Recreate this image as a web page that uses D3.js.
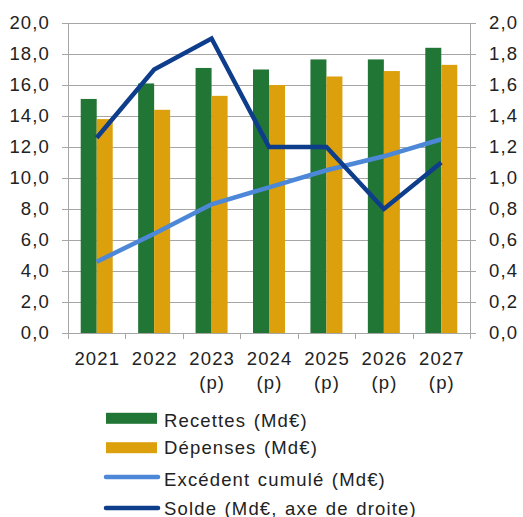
<!DOCTYPE html>
<html><head><meta charset="utf-8">
<script src="https://cdn.jsdelivr.net/npm/d3@7"></script>
<style>body{margin:0;background:#fff}svg{display:block}text{font-family:"Liberation Sans",Arial,sans-serif;fill:#222;font-size:18.5px;letter-spacing:1.15px;word-spacing:1.2px}</style>
</head><body><svg id="c" width="523" height="517"></svg>
<script>
const years = ["2021","2022","2023","2024","2025","2026","2027"];
const yearSub = ["","","(p)","(p)","(p)","(p)","(p)"];
const recettes = [15.1,16.1,17.1,17.0,17.65,17.65,18.4];
const depenses = [13.8,14.4,15.3,16.0,16.55,16.9,17.3];
const excedent = [4.6,6.4,8.3,9.4,10.5,11.4,12.5];
const solde = [1.26,1.7,1.9,1.2,1.2,0.8,1.1];
const leftTicks = [0,2,4,6,8,10,12,14,16,18,20];
const rightTicks = [0,0.2,0.4,0.6,0.8,1.0,1.2,1.4,1.6,1.8,2.0];
const legendLabels = ["Recettes (Md€)","Dépenses (Md€)","Excédent cumulé (Md€)","Solde (Md€, axe de droite)"];
const colors = {rec:"#217535",dep:"#dba00c",exc:"#4d88d8",sol:"#0e3d8b",grid:"#a6a6a6"};

const svg = d3.select("#c");
const L=68,R=470,T=23,B=333;
const x = d3.scaleBand().domain(years).range([L,R]);
const yL = d3.scaleLinear().domain([0,20]).range([B,T]);
const yR = d3.scaleLinear().domain([0,2]).range([B,T]);
const fmt = d=>d.toFixed(1).replace(".",",");

svg.append("g").selectAll("line").data(leftTicks).join("line")
  .attr("x1",L-6).attr("x2",R+6).attr("y1",d=>yL(d)+0.5).attr("y2",d=>yL(d)+0.5)
  .attr("stroke",colors.grid).attr("stroke-width",1);
svg.append("line").attr("x1",L+0.5).attr("x2",L+0.5).attr("y1",T).attr("y2",B).attr("stroke",colors.grid);
svg.append("line").attr("x1",R+0.5).attr("x2",R+0.5).attr("y1",T).attr("y2",B).attr("stroke",colors.grid);
const xt = years.map((y,i)=>x(y)).concat([R]);
svg.append("g").selectAll("line").data(xt).join("line")
  .attr("x1",d=>Math.round(d)+0.5).attr("x2",d=>Math.round(d)+0.5).attr("y1",B).attr("y2",B+6)
  .attr("stroke",colors.grid);

svg.append("g").selectAll("text").data(leftTicks).join("text")
  .attr("x",L-18).attr("y",d=>yL(d)).attr("dy","0.35em").attr("text-anchor","end")
  .text(fmt);
svg.append("g").selectAll("text").data(rightTicks).join("text")
  .attr("x",R+19).attr("y",d=>yR(d)).attr("dy","0.35em").attr("text-anchor","start")
  .text(fmt);

const bw=16;
const cx = y=>x(y)+x.bandwidth()/2;
svg.append("g").selectAll("rect").data(years).join("rect")
  .attr("x",d=>cx(d)-bw).attr("width",bw).attr("y",(d,i)=>yL(recettes[i])).attr("height",(d,i)=>B-yL(recettes[i]))
  .attr("fill",colors.rec);
svg.append("g").selectAll("rect").data(years).join("rect")
  .attr("x",d=>cx(d)).attr("width",bw).attr("y",(d,i)=>yL(depenses[i])).attr("height",(d,i)=>B-yL(depenses[i]))
  .attr("fill",colors.dep);

svg.append("path").datum(excedent).attr("fill","none").attr("stroke",colors.exc).attr("stroke-width",4.5)
  .attr("d",d3.line().x((d,i)=>cx(years[i])).y(d=>yL(d)));
svg.append("path").datum(solde).attr("fill","none").attr("stroke",colors.sol).attr("stroke-width",4.5)
  .attr("stroke-linejoin","miter")
  .attr("d",d3.line().x((d,i)=>cx(years[i])).y(d=>yR(d)));

const xl = svg.append("g").selectAll("g").data(years).join("g");
xl.append("text").attr("x",d=>cx(d)+0.6).attr("y",365).attr("text-anchor","middle").text(d=>d);
xl.append("text").attr("x",d=>cx(d)+0.6).attr("y",389).attr("text-anchor","middle").text((d,i)=>yearSub[i]);

const lg = svg.append("g");
const rows=[418.3,447.7,477,508];
const base=[426.7,454.3,486,514.5];
legendLabels.forEach((lab,i)=>{
  if(i<2){
    lg.append("rect").attr("x",106).attr("y",rows[i]-5.5).attr("width",51).attr("height",11).attr("fill",i==0?colors.rec:colors.dep);
  } else {
    lg.append("line").attr("x1",106).attr("x2",158).attr("y1",rows[i]).attr("y2",rows[i])
      .attr("stroke",i==2?colors.exc:colors.sol).attr("stroke-width",4.5).attr("stroke-linecap","round");
  }
  lg.append("text").attr("x",164).attr("y",base[i]).text(lab);
});
</script></body></html>
